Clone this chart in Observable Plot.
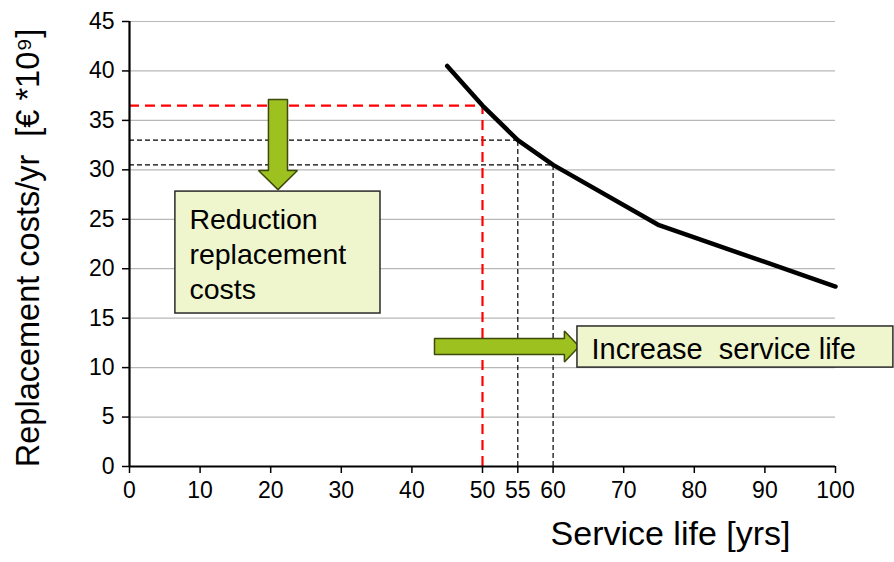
<!DOCTYPE html>
<html>
<head>
<meta charset="utf-8">
<script src="https://cdn.jsdelivr.net/npm/d3@7"></script>
<script src="https://cdn.jsdelivr.net/npm/@observablehq/plot@0.6"></script>
<style>
  html, body { margin: 0; padding: 0; background: #fff; }
  #chart { width: 894px; height: 562px; }
</style>
</head>
<body>
<div id="chart"></div>
<script>
// ---- Data ----
const serviceLife = [45, 50, 55, 60, 75, 100];
const replacementCost = [40.5, 36.5, 33.0, 30.5, 24.4, 18.2];

const xTicks = [0, 10, 20, 30, 40, 50, 55, 60, 70, 80, 90, 100];
const yTicks = [0, 5, 10, 15, 20, 25, 30, 35, 40, 45];

// reference read-offs (service life -> cost)
const refLife = [50, 55, 60];
const refCost = [36.5, 33.0, 30.5];
const refStyle = ["red", "black", "black"];

// annotations (data units)
const boxLabels = ["Reduction\nreplacement\ncosts", "Increase  service life"];
const boxX1 = [6.5, 63.45];
const boxX2 = [35.55, 108.2];
const boxY1 = [15.47, 10.0];
const boxY2 = [27.8, 14.16];

const downArrow = {x: 21.03, yStart: 37.1, yEnd: 28.0, shaftHalf: 1.35, headHalf: 2.76, headLen: 1.93};
const rightArrow = {y: 12.13, xStart: 43.2, xEnd: 63.7, shaftHalf: 0.81, headHalf: 1.57, headLen: 2.1};

const yTitle = "Replacement costs/yr  [€ *10⁹]";
const xTitle = "Service life [yrs]";

// ---- Build ----
const curve = serviceLife.map((x, i) => ({x, y: replacementCost[i]}));
const refs = refLife.map((x, i) => ({x, y: refCost[i], kind: refStyle[i]}));
const boxes = boxLabels.map((t, i) => ({t, x1: boxX1[i], x2: boxX2[i], y1: boxY1[i], y2: boxY2[i]}));

function downPoly(a) {
  const hs = a.yEnd + a.headLen;
  return [
    [a.x - a.shaftHalf, a.yStart], [a.x + a.shaftHalf, a.yStart], [a.x + a.shaftHalf, hs],
    [a.x + a.headHalf, hs], [a.x, a.yEnd], [a.x - a.headHalf, hs], [a.x - a.shaftHalf, hs],
    [a.x - a.shaftHalf, a.yStart]
  ].map(([x, y]) => ({x, y}));
}
function rightPoly(a) {
  const hs = a.xEnd - a.headLen;
  return [
    [a.xStart, a.y - a.shaftHalf], [hs, a.y - a.shaftHalf], [hs, a.y - a.headHalf],
    [a.xEnd, a.y], [hs, a.y + a.headHalf], [hs, a.y + a.shaftHalf], [a.xStart, a.y + a.shaftHalf],
    [a.xStart, a.y - a.shaftHalf]
  ].map(([x, y]) => ({x, y}));
}

const red = refs.filter(d => d.kind === "red");
const blk = refs.filter(d => d.kind === "black");

const chart = Plot.plot({
  width: 894,
  height: 562,
  marginLeft: 129,
  marginRight: 59,
  marginTop: 21,
  marginBottom: 96,
  style: {fontFamily: "'Liberation Sans', Arial, sans-serif", fontSize: "23px", color: "#000", background: "#fff"},
  x: {domain: [0, 100]},
  y: {domain: [0, 45]},
  marks: [
    Plot.gridY(yTicks.filter(d => d > 0), {stroke: "#b8b8b8", strokeOpacity: 1, strokeWidth: 1.2}),
    Plot.ruleY(blk, {y: "y", x1: 0, x2: "x", stroke: "#000", strokeWidth: 1.2, strokeDasharray: "5,3"}),
    Plot.ruleX(blk, {x: "x", y1: 0, y2: "y", stroke: "#000", strokeWidth: 1.2, strokeDasharray: "5,3"}),
    Plot.ruleY(red, {y: "y", x1: 0, x2: "x", stroke: "#ff0000", strokeWidth: 2.2, strokeDasharray: "10,6"}),
    Plot.ruleX(red, {x: "x", y1: 0, y2: "y", stroke: "#ff0000", strokeWidth: 2.2, strokeDasharray: "10,6"}),
    Plot.axisY(yTicks, {tickSize: 7, tickPadding: 8, fontSize: 23, label: null, stroke: "#000", strokeWidth: 1.5}),
    Plot.axisX(xTicks, {tickSize: 7, tickPadding: 8, fontSize: 23, label: null, stroke: "#000", strokeWidth: 1.5}),
    Plot.ruleX([0], {stroke: "#000", strokeWidth: 2.2}),
    Plot.ruleY([0], {stroke: "#000", strokeWidth: 2.2}),
    Plot.line(curve, {x: "x", y: "y", stroke: "#000", strokeWidth: 4.5, strokeLinejoin: "round", strokeLinecap: "round"}),
    Plot.line(downPoly(downArrow), {x: "x", y: "y", fill: "#9dc21f", stroke: "#3d4a0c", strokeWidth: 1.5, strokeLinejoin: "miter"}),
    Plot.line(rightPoly(rightArrow), {x: "x", y: "y", fill: "#9dc21f", stroke: "#3d4a0c", strokeWidth: 1.5, strokeLinejoin: "miter"}),
    Plot.rect(boxes, {x1: "x1", x2: "x2", y1: "y1", y2: "y2", fill: "#eff6cd", stroke: "#2a2a2a", strokeWidth: 1.5}),
    Plot.text(boxes.slice(0, 1), {x: "x1", y: "y2", text: "t", textAnchor: "start", lineAnchor: "top", dx: 14, dy: 12, fontSize: 28.5, lineHeight: 1.24, fill: "#000"}),
    Plot.text(boxes.slice(1), {x: "x1", y: d => (d.y1 + d.y2) / 2, text: "t", textAnchor: "start", lineAnchor: "middle", dx: 14, dy: 3, fontSize: 29, fill: "#000"}),
    Plot.text([yTitle], {frameAnchor: "left", textAnchor: "middle", rotate: -90, dx: -101, dy: 4, fontSize: 32.5, fill: "#000"}),
    Plot.text([xTitle], {frameAnchor: "bottom-right", textAnchor: "end", dx: -45, dy: 78, fontSize: 34, fill: "#000"})
  ]
});

document.getElementById("chart").appendChild(chart);
</script>
</body>
</html>
